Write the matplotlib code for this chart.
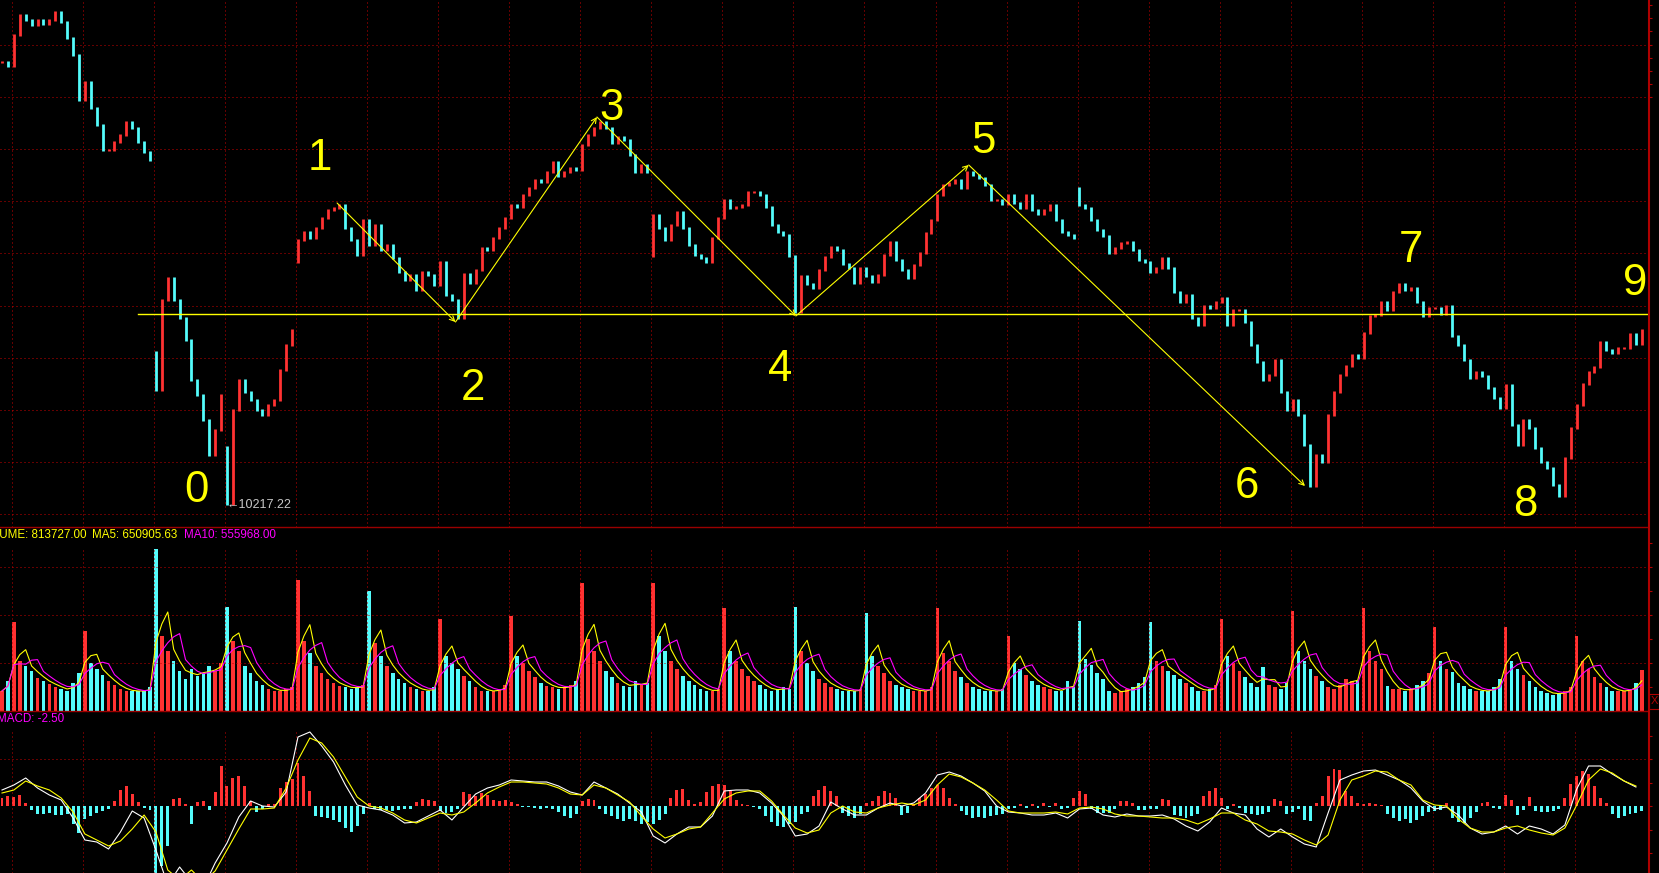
#!/usr/bin/env python3

import matplotlib
matplotlib.use('Agg')
import matplotlib.pyplot as plt
from matplotlib.lines import Line2D
from matplotlib.patches import Rectangle
import numpy as np
import pandas as pd

# closing price of every bar, left to right
close = [
    12430, 12410, 12565, 12665, 12640, 12615, 12640, 12620, 12640, 12680, 12630, 12550,
    12465, 12240, 12330, 12200, 12115, 11990, 11990, 12030, 12065, 12130, 12100, 12030,
    11980, 11940, 10790, 11240, 11350, 11240, 11150, 11040, 10840, 10765, 10640, 10465,
    10590, 10765, 10217, 10690, 10840, 10780, 10740, 10690, 10665, 10715, 10740, 10890,
    11015, 11090, 11540, 11580, 11550, 11600, 11650, 11690, 11700, 11715, 11600, 11540,
    11465, 11640, 11515, 11615, 11490, 11515, 11450, 11380, 11340, 11365, 11290, 11380,
    11365, 11315, 11430, 11265, 11240, 11150, 11370, 11325, 11390, 11500, 11490, 11550,
    11600, 11650, 11715, 11705, 11765, 11800, 11840, 11830, 11880, 11930, 11860, 11880,
    11900, 11890, 12015, 12065, 12100, 12130, 12100, 12025, 12055, 12040, 11965, 11880,
    11915, 11880, 11665, 11600, 11540, 11615, 11680, 11600, 11515, 11465, 11450, 11430,
    11550, 11650, 11740, 11700, 11705, 11715, 11780, 11780, 11765, 11705, 11615, 11580,
    11565, 11460, 11180, 11360, 11320, 11300, 11390, 11455, 11505, 11490, 11420, 11400,
    11325, 11400, 11360, 11330, 11365, 11465, 11530, 11440, 11390, 11350, 11415, 11475,
    11575, 11640, 11765, 11815, 11825, 11840, 11800, 11880, 11865, 11850, 11815, 11740,
    11740, 11720, 11765, 11725, 11700, 11765, 11690, 11670, 11690, 11715, 11640, 11580,
    11565, 11550, 11715, 11700, 11640, 11590, 11560, 11475, 11500, 11525, 11530, 11490,
    11440, 11430, 11380, 11400, 11450, 11400, 11280, 11230, 11265, 11150, 11115, 11210,
    11200, 11230, 11250, 11115, 11190, 11190, 11130, 11015, 10930, 10840, 10865, 10940,
    10780, 10690, 10740, 10665, 10515, 10310, 10465, 10430, 10665, 10780, 10865, 10910,
    10965, 10950, 11075, 11160, 11165, 11230, 11190, 11280, 11320, 11290, 11300, 11230,
    11160, 11200, 11200, 11170, 11210, 11060, 11015, 10940, 10850, 10880, 10860, 10800,
    10750, 10700, 10815, 10615, 10515, 10640, 10600, 10500, 10430, 10400, 10315, 10260,
    10450, 10600, 10715, 10820, 10880, 10905, 11030, 10990, 10975, 11000, 11000, 11070,
    11020, 11090]

# bars that open away from the previous close
gap_open = {26: 10980, 38: 10505, 50: 11430, 110: 11460, 182: 11800}

# volume in thousands
volume = [
    400, 600, 1780, 1000, 900, 800, 660, 600, 540, 480, 440, 400,
    560, 760, 1600, 960, 840, 720, 600, 520, 440, 400, 400, 400,
    400, 480, 3240, 1500, 1200, 1000, 800, 640, 840, 700, 760, 900,
    800, 960, 2080, 1400, 1200, 900, 760, 600, 520, 440, 400, 400,
    440, 480, 2620, 1400, 1160, 900, 760, 640, 560, 500, 480, 440,
    480, 520, 2400, 1360, 1100, 900, 760, 640, 560, 480, 440, 400,
    400, 480, 1840, 1100, 960, 840, 700, 600, 480, 400, 400, 400,
    440, 520, 1900, 1100, 960, 800, 680, 560, 500, 480, 440, 480,
    520, 600, 2560, 1440, 1200, 1000, 800, 680, 560, 500, 480, 600,
    520, 560, 2560, 1500, 1200, 1000, 840, 700, 600, 520, 440, 400,
    400, 440, 2060, 1200, 1000, 840, 700, 600, 520, 440, 400, 440,
    480, 440, 2080, 1200, 960, 800, 640, 560, 480, 440, 400, 400,
    400, 440, 1960, 1100, 900, 760, 600, 520, 480, 440, 400, 400,
    400, 480, 2060, 1160, 1000, 800, 680, 560, 480, 440, 400, 400,
    400, 440, 1500, 960, 840, 720, 600, 520, 480, 440, 400, 400,
    600, 480, 1800, 1040, 920, 760, 640, 400, 360, 400, 440, 480,
    560, 680, 1780, 1000, 900, 800, 720, 640, 560, 480, 400, 400,
    440, 520, 1840, 1100, 960, 800, 680, 560, 480, 880, 520, 480,
    440, 560, 2000, 1200, 1000, 840, 700, 600, 480, 440, 520, 640,
    600, 600, 2060, 1200, 1000, 840, 500, 440, 440, 400, 440, 520,
    600, 760, 1680, 1000, 840, 780, 560, 500, 440, 400, 400, 400,
    480, 640, 1680, 1000, 840, 720, 600, 480, 400, 360, 320, 360,
    400, 480, 1500, 1000, 840, 680, 560, 480, 400, 400, 400, 440,
    560, 814]

# MACD histogram, one value per bar
macd_hist = [
    4, 5, 4.5, 5.5, 1.5, -2, -4, -4, -3.5, -4.5, -4.5, -4,
    -9, -13.5, -6.5, -5, -3.5, -2.5, -1.5, 2.5, 8, 10, 6, 2,
    -1, -2, -35, -30, -20, 3.5, 4, 1, -9, 2, 2.5, -2,
    7, 20, 10, 14, 15, 10, 2.5, -3, -1.5, 1, 1, 9,
    12, 13.5, 21.5, 15, 7.5, -5, -5.5, -6, -7, -8, -11, -13,
    -10, -4, 1.5, -1.5, -2, -2, -2.5, -2, -1.5, -1.5, 2, 3.5,
    3, 2.5, -2.5, -3.5, -3, -1.5, 7, 6, 5, 6.5, 5.5, 3,
    2.5, 3, 2, 1, -0.5, -0.5, -1, -1.5, -1, -1.5, -3, -5,
    -6, -4, 2.5, 3.5, 3, -1.5, -4, -5, -6.5, -7.5, -6.5, -7.5,
    -9, -8, -9, -7, -4, 4, 8, 8.5, 3, 1, 2, 7,
    10, 11, 10.5, 7.5, 3, 1, 0.5, -0.5, -1.5, -5, -8, -10,
    -10.5, -9, -8, -4, -3, 5, 8, 10, 7.5, 5, -3.5, -5,
    -6, -4, 1.5, 2.5, 5, 7.5, 6.5, 4, -4.5, -3.5, 1, 4,
    6, 9, 10.5, 9, 4, 1, -2.5, -4.5, -6, -5.5, -6, -5,
    -4.5, -4, -1.5, -1, 1, -1, 1, -1, 1.5, -0.5, 1.5, -1.5,
    -1, 4, 7.5, 6, -1.5, -3.5, -3.5, -3.5, -1.5, 2.5, 2.5, 1.5,
    -2, -2, -1.5, -1.5, 3.5, 3, -4.5, -5, -6, -5, -4, 5,
    7.5, 9, 4, -1.5, 1, -1, -3.5, -4, -4.5, -4, -3, 3.5,
    2.5, -4, -3, -1.5, -7, -7.5, 1.5, 5, 15, 18.5, 18, 7.5,
    5, 1.5, 1, 1.5, 1, 0.5, -4, -6, -7.5, -6.5, -8.5, -7,
    -5, -3, -2.5, -2, 1.5, -6, -8, -8.5, -6, -3, 1.5, 2,
    -1, -1.5, 5.5, 3, -4.5, -2, 4.5, -2.5, -3, -3, -2.5, -1.5,
    4, 11, 15, 17.5, 16, 10, 4, 1.5, -4, -6, -5, -4,
    -3.5, -2.5]

# DIF and DEA, read every second bar
dif = [
    8, 10.5, 14, 9, 5.5, 3, -6, -17, -18, -21.5,
    -13, -2.5, -6, -22, -39.5, -30.5, -38, -41, -28.5, -18.5,
    -5.5, 2.5, 0, -0.5, 7, 34.5, 37, 30, 22, 10.5,
    0.5, -1, -2, -4.5, -8.5, -8, -5, -2, -7, -0.5,
    6, 9, 10.5, 13, 12.5, 12, 12, 10, 7, 5.5,
    12, 9, 6, 1.5, -3, -15, -18.5, -14, -10.5, -10.5,
    -5, 7.5, 8, 8, 6.5, 1.5, -5, -15, -14, -10,
    2, -1.5, -4.5, -4.5, -1, 1.5, 0, 1.5, 6.5, 15.5,
    17, 15, 11.5, 7.5, 0, -3, -3.5, -4.5, -4.5, -3.5,
    -6, -1.5, -1, -4.5, -5.5, -4, -5, -5, -4.5, -6.5,
    -10, -12.5, -8, -1, -3.5, -4.5, -11.5, -15.5, -11.5, -15.5,
    -19, -20.5, -3.5, 13, 15.5, 17.5, 18, 15.5, 13, 9,
    2.5, -1.5, -0.5, -4.5, -11, -14, -13, -10, -14, -10,
    -11.5, -14, -9.5, 8.5, 20, 20, 16, 12.5, 9.5]
dea = [
    6.5, 8, 12.5, 10, 8, 4, -3, -14, -17, -20,
    -17.5, -11.5, -4.5, -13, -32, -37, -32, -38, -32.5, -22,
    -11.5, -1.5, -1.5, -1, 9, 23, 34, 31.5, 24.5, 14.5,
    4.5, 0, -1, -3.5, -7, -8.5, -6, -3.5, -4.5, -3,
    1.5, 6.5, 9.5, 12, 12, 11.5, 11, 9, 6, 5.5,
    10.5, 9, 5.5, 2, -5, -11.5, -16, -14, -11.5, -10.5,
    -3.5, 3.5, 6.5, 7.5, 7.5, 2.5, -4.5, -11, -13.5, -12,
    -3.5, 0, -3, -3.5, -1, 0.5, 1.5, 0.5, 3, 10.5,
    16, 14.5, 11.5, 8, 3, -2.5, -3.5, -3.5, -3.5, -3,
    -4, -1, -0.5, -1.5, -4, -5, -5, -5.5, -6, -6,
    -7, -9, -6.5, -3.5, -3.5, -7, -9, -12.5, -13, -14,
    -17, -19.5, -14.5, 3, 13, 15, 17.5, 17, 13, 10.5,
    3, 0.5, 0, -6.5, -11, -13, -13, -11, -10, -12,
    -13.5, -14.5, -11, 0.5, 13, 18.5, 16.5, 12.5, 10]

# wave turning points and the neckline
pivot_bar = [56.6, 76.6, 100.5, 134.1, 163.3, 220.1]
pivot_price = [11725, 11130, 12155, 11160, 11915, 10310]
neck_price = 11172
neck_from = 23.0

wave_labels = ['0', '1', '2', '3', '4', '5', '6', '7', '8', '9']
label_bar = [32.9, 53.7, 79.6, 103.0, 131.4, 165.7, 210.2, 238.0, 257.4, 275.8]
label_price = [10230, 11890, 10740, 12140, 10835, 11975, 10250, 11430, 10160, 11265]

low_bar = 38
low_text = '\u219010217.22'
vol_title = ['VOLUME: 813727.00', 'MA5: 650905.63', 'MA10: 555968.00']
macd_title = 'MACD: -2.50'

RED = '#ff3232'
CYAN = '#54fcfc'
GRID = '#c80000'
FRAME = '#b00000'
FONT = ['Liberation Sans', 'DejaVu Sans']
DOT = (0, (1, 3))

W, H = 1659, 873
X0, X1 = -0.34, 278.04
grid_x = 1.69 + 12 * np.arange(23)


def setup(ax, ylim, ticks):
    ax.set_facecolor('black')
    ax.set_xlim(X0, X1)
    ax.set_ylim(*ylim)
    for s in ax.spines.values():
        s.set_visible(False)
    ax.set_xticks([])
    ax.yaxis.tick_right()
    ax.set_yticks([t for t in ticks if ylim[0] < t < ylim[1]])
    ax.tick_params(axis='y', length=3, width=0.8, color=FRAME,
                   labelright=False, labelleft=False, direction='out')


def main():
    fig = plt.figure(figsize=(W / 100, H / 100), dpi=100, facecolor='black')
    ax_p = fig.add_axes([0, 1 - 527 / H, 1648 / W, 527 / H])
    ax_v = fig.add_axes([0, 1 - 711 / H, 1648 / W, 184 / H])
    ax_m = fig.add_axes([0, 0, 1648 / W, 162 / H])

    n = len(close)
    x = np.arange(n)
    c = np.array(close, dtype=float)
    o = np.r_[c[0], c[:-1]]
    for i, v in gap_open.items():
        o[i] = v
    cols = np.where(c >= o, RED, CYAN)

    # price panel
    setup(ax_p, (10105, 12740), 12517.5 + 65.25 * np.arange(-4, 38))
    rows = 12517.5 - 261 * np.arange(10)
    ax_p.hlines(rows, X0, X1, colors=GRID, linestyles=DOT, lw=0.72)
    ax_p.vlines(grid_x, 10105, 12740, colors=GRID, linestyles=DOT, lw=0.72)
    ax_p.vlines(x, np.minimum(o, c) - 4, np.maximum(o, c) + 4, colors=cols, lw=2.0)

    ax_p.plot([neck_from, X1], [neck_price, neck_price], color='#ffff00', lw=1.0)
    for k in range(len(pivot_bar) - 1):
        ax_p.annotate('', xy=(pivot_bar[k + 1], pivot_price[k + 1]),
                      xytext=(pivot_bar[k], pivot_price[k]),
                      arrowprops=dict(arrowstyle='->', color='#ffff00', lw=0.8,
                                      shrinkA=0, shrinkB=0, mutation_scale=9))
    for t, bx, py in zip(wave_labels, label_bar, label_price):
        ax_p.text(bx, py, t, color='#ffff00', fontsize=31.5, family=FONT,
                  ha='center', va='baseline')
    ax_p.text(low_bar - 0.16, close[low_bar], low_text, color='#c8c8c8',
              fontsize=9, family=FONT, ha='left', va='center')

    # volume panel; bars are thinned to half density, so the averages
    # use half-length windows to keep the reference's shape
    vol = np.array(volume, dtype=float)
    setup(ax_v, (0, 3680), 480 * np.arange(1, 8))
    ax_v.hlines([960, 1920, 2880], X0, X1, colors=GRID, linestyles=DOT, lw=0.72)
    ax_v.vlines(grid_x, 0, 3280, colors=GRID, linestyles=DOT, lw=0.72)
    ax_v.bar(x, vol, width=0.6, color=cols, linewidth=0)
    ma5 = pd.Series(vol).rolling(3, min_periods=1).mean()
    ma10 = pd.Series(vol).rolling(5, min_periods=1).mean()
    ax_v.plot(x, ma5, color='#ffff00', lw=0.8)
    ax_v.plot(x, ma10, color='#ff00ff', lw=0.8)

    # MACD panel
    h = np.array(macd_hist, dtype=float)
    setup(ax_m, (-33.5, 47.5), 11.75 * np.arange(-2, 4))
    ax_m.hlines([23.5], X0, X1, colors=GRID, linestyles=DOT, lw=0.72)
    ax_m.vlines(grid_x, -33.5, 38.5, colors=GRID, linestyles=DOT, lw=0.72)
    ax_m.bar(x, h, width=0.5, color=np.where(h >= 0, RED, CYAN), linewidth=0)
    xl = np.arange(len(dif)) * 2
    ax_m.plot(xl, dif, color='white', lw=0.8)
    ax_m.plot(xl, dea, color='#ffff00', lw=0.8)

    # frame lines
    for yy in (527, 711):
        fig.add_artist(Line2D([0, 1648 / W], [1 - yy / H, 1 - yy / H],
                              color='#9a0000', lw=1.0))
    fig.add_artist(Line2D([1648.5 / W, 1648.5 / W], [0, 1], color=FRAME, lw=1.5))
    fig.add_artist(Rectangle((1649 / W, 1 - 709 / H), 9.5 / W, 15 / H,
                             fill=False, edgecolor=FRAME, lw=0.8))
    fig.text(1654 / W, 1 - 701.5 / H, 'X', color=FRAME, fontsize=8,
             family=FONT, ha='center', va='center')

    # panel titles
    fig.text(-23.5 / W, 1 - 535.5 / H, vol_title[0], color='#ffff00',
             fontsize=8.4, family=FONT, va='center')
    fig.text(91.7 / W, 1 - 535.5 / H, vol_title[1], color='#ffff00',
             fontsize=8.4, family=FONT, va='center')
    fig.text(184.3 / W, 1 - 535.5 / H, vol_title[2], color='#ff00ff',
             fontsize=8.4, family=FONT, va='center')
    fig.text(-3 / W, 1 - 719.5 / H, macd_title, color='#ff00ff',
             fontsize=8.4, family=FONT, va='center')

    fig.savefig('out.png', dpi=100, facecolor='black')


if __name__ == '__main__':
    main()
